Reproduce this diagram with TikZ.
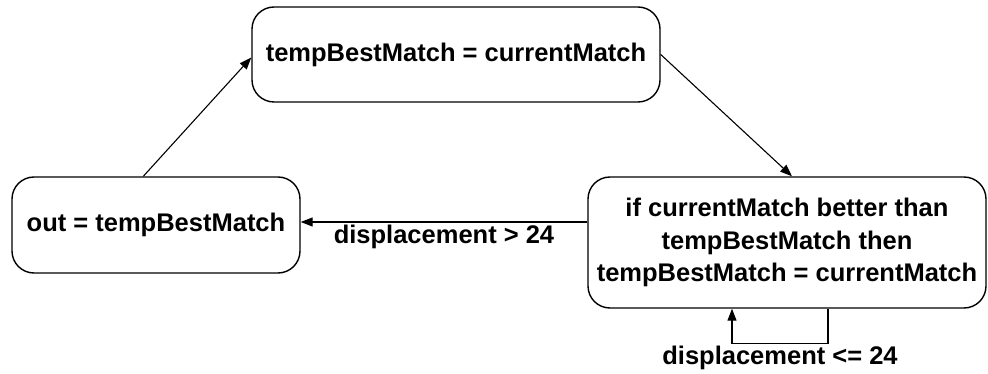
\documentclass[tikz,border=0pt]{standalone}
\usepackage{fontspec}
\setmainfont{Liberation Sans}
\usetikzlibrary{arrows.meta,calc}
\begin{document}
\begin{tikzpicture}[x=1pt,y=-1pt,
  state/.style={draw,line width=1.4pt,rounded corners=22pt,align=center,
    inner sep=0pt,font=\fontsize{25.5}{32.5}\selectfont\bfseries},
  label/.style={font=\fontsize{25.5}{32.5}\selectfont\bfseries,inner sep=0pt},
  edge/.style={line width=1.1pt,-{Triangle[length=12pt,width=9pt]}}]
\useasboundingbox (0,0) rectangle (988,374);
% the three states
\node[state,minimum width=408pt,minimum height=95pt] (upd) at (456,54.5)
  {tempBestMatch = currentMatch};
\node[state,minimum width=288pt,minimum height=96pt] (out) at (156,225)
  {out = tempBestMatch};
\node[state,minimum width=398pt,minimum height=131pt] (cmp) at (787,242.5)
  {if currentMatch better than\\tempBestMatch then\\tempBestMatch = currentMatch};
% transitions
\draw[edge] ($(out.north west)+(132,0)$) -- ($(upd.west)+(0,3)$);
\draw[edge] (upd.east) -- ($(cmp.north)+(5,0)$);
\draw[edge] (cmp.west |- 0,222) -- (out.east |- 0,222);
\node[label] (gt) at (444,237) {displacement > 24};
% self loop on the comparison state
\coordinate (lr) at ($(cmp.south)+(41,35)$);
\coordinate (ll) at ($(cmp.south)+(-55,35)$);
\draw[edge] ($(cmp.south)+(41,0)$) -- (lr) -- (ll) -- ($(cmp.south)+(-55,0)$);
\node[label] (le) at (780,358) {displacement <= 24};
\end{tikzpicture}
\end{document}
